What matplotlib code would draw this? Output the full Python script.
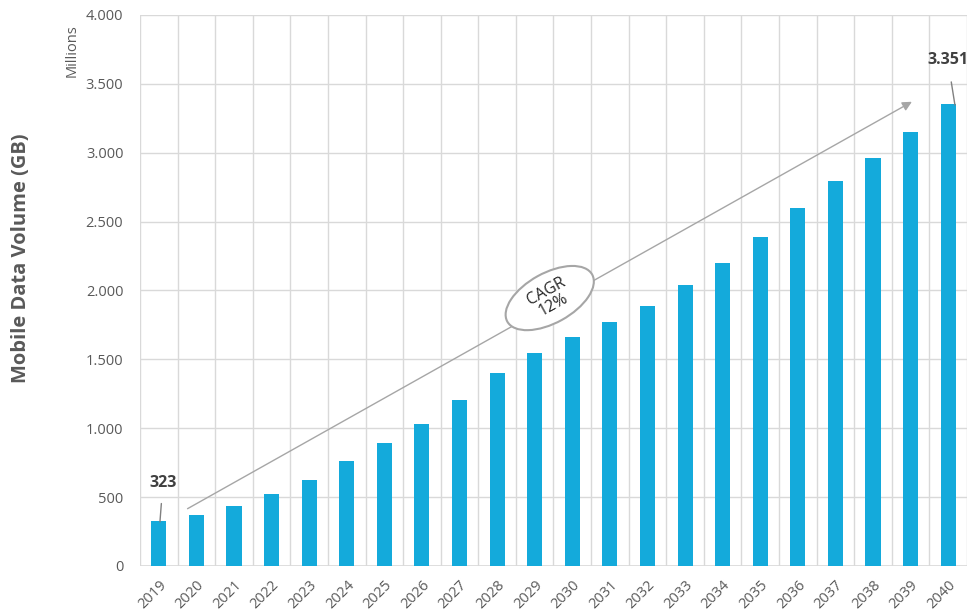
import matplotlib.pyplot as plt
import matplotlib.transforms as mtransforms
from matplotlib.patches import Ellipse
from matplotlib.ticker import FuncFormatter, MultipleLocator

years = [str(y) for y in range(2019, 2041)]
volume = [323, 372, 437, 522, 622, 763, 893, 1030, 1205, 1400, 1545,
          1663, 1770, 1888, 2039, 2199, 2387, 2598, 2795, 2962, 3150, 3351]

plt.rcParams['font.family'] = ['Open Sans', 'DejaVu Sans']

fig = plt.figure(figsize=(9.73, 6.14), dpi=100)
ax = fig.add_axes([0.1439, 0.0782, 0.8499, 0.8974])

x = list(range(len(years)))
ax.bar(x, volume, width=0.4, color='#14aadb', zorder=3)

ax.set_xlim(-0.5, len(years) - 0.5)
ax.set_ylim(0, 4000)
ax.yaxis.set_major_locator(MultipleLocator(500))
ax.yaxis.set_major_formatter(FuncFormatter(lambda v, p: f'{int(v):,}'.replace(',', '.')))
ax.set_xticks(x)
ax.set_xticklabels(years, rotation=45, ha='right', rotation_mode='anchor')
ax.set_xticks([i - 0.5 for i in range(len(years) + 1)], minor=True)
ax.tick_params(axis='both', which='both', length=0, colors='#595959', labelsize=10.5)
ax.tick_params(axis='x', pad=8)
ax.tick_params(axis='y', pad=12)
ax.grid(which='minor', axis='x', color='#d9d9d9', lw=1, zorder=0)
ax.grid(which='major', axis='y', color='#d9d9d9', lw=1, zorder=0)
for s in ax.spines.values():
    s.set_visible(False)
ax.axhline(0, color='#d9d9d9', lw=1.2, zorder=2)

fig.text(0.022, 0.58, 'Mobile Data Volume (GB)', rotation=90, fontsize=14.5,
         fontweight='bold', color='#595959', ha='center', va='center')
fig.text(0.074, 0.918, 'Millions', rotation=90, fontsize=10.5,
         color='#595959', ha='center', va='center')

# CAGR arrow
ax.annotate('', xy=(20.1, 3380), xytext=(0.7, 406),
            arrowprops=dict(arrowstyle='-|>', color='#a6a6a6', lw=1,
                            mutation_scale=14), zorder=4)
ell_tr = fig.dpi_scale_trans + mtransforms.ScaledTranslation(10.4, 1945, ax.transData)
ell = Ellipse((0, 0), width=0.97, height=0.5, angle=29, transform=ell_tr,
              facecolor='white', edgecolor='#a6a6a6', lw=1.5, zorder=5)
ax.add_patch(ell)
ax.text(10.4, 1945, 'CAGR\n12%', rotation=29, ha='center', va='center',
        fontsize=11.5, color='#262626', zorder=6, linespacing=1.0)

# value labels
ax.annotate(f'{volume[0]}', xy=(0.03, 320), xytext=(0.11, 602),
            ha='center', va='center', fontsize=11.5, fontweight='bold', color='#404040',
            arrowprops=dict(arrowstyle='-', color='#808080', lw=1, shrinkB=0, shrinkA=7))
ax.annotate(f'{volume[-1]:,}'.replace(',', '.'), xy=(21.18, 3346), xytext=(20.99, 3672),
            ha='center', va='center', fontsize=11.5, fontweight='bold', color='#404040',
            arrowprops=dict(arrowstyle='-', color='#808080', lw=1, shrinkB=0, shrinkA=8))

fig.savefig('out.png', dpi=100)
